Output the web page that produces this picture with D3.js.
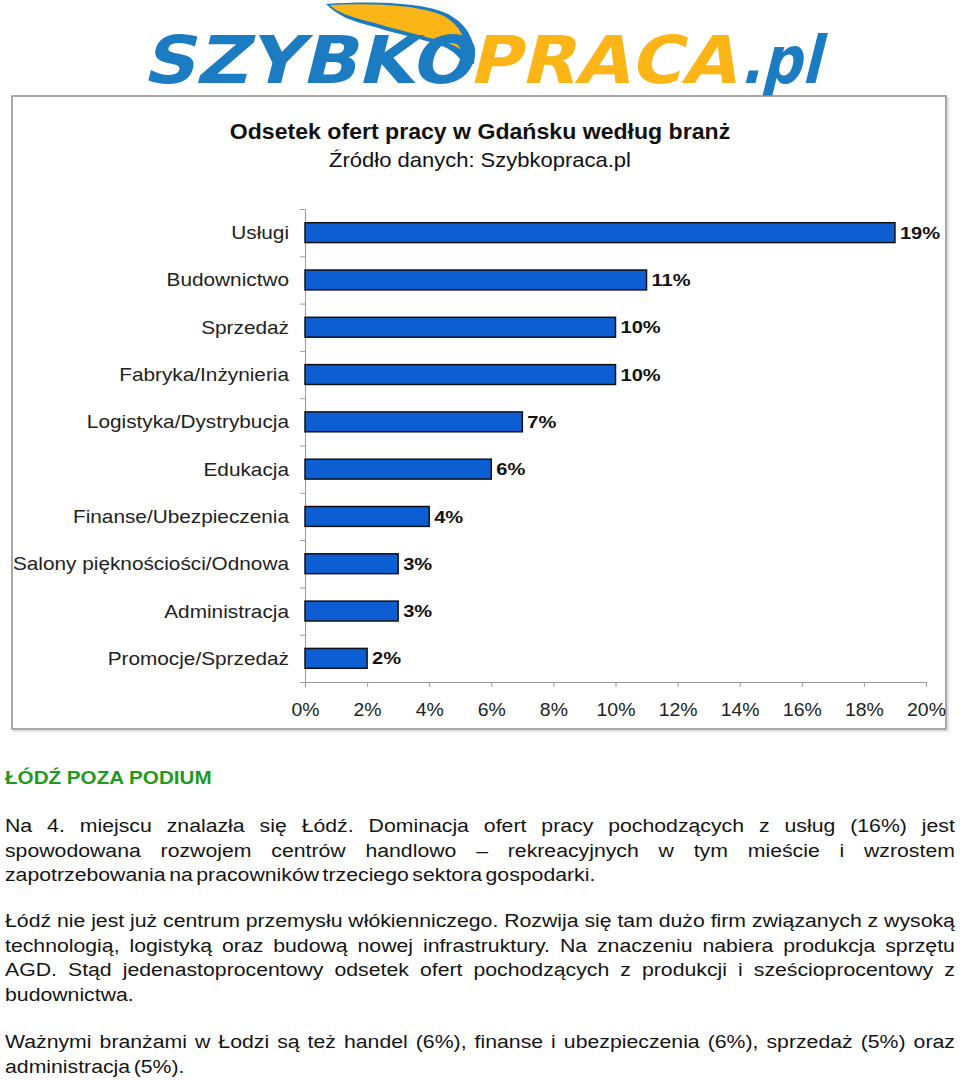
<!DOCTYPE html>
<html lang="pl">
<head>
<meta charset="utf-8" />
<title>Odsetek ofert pracy w Gdańsku według branż</title>
<script src="https://d3js.org/d3.v7.min.js"></script>
<style>
  body { margin: 0; background: #fff; width: 960px; height: 1081px; position: relative; overflow: hidden;
         font-family: "Liberation Sans", Arial, sans-serif; }
  svg { position: absolute; left: 0; top: 0; }
  .axis path, .axis line { stroke: #9a9a9a; stroke-width: 1px; }
  .para { position: absolute; left: 5px; width: 805px; font-size: 18px; line-height: 24.5px; color: #141414;
          word-spacing: -2px; transform: scaleX(1.18); transform-origin: 0 0; }
  .para div { text-align: justify; text-align-last: justify; white-space: nowrap; }
  .para div.last { text-align-last: left; }
</style>
</head>
<body>
<script>
// chart data
const categories = ["Usługi", "Budownictwo", "Sprzedaż", "Fabryka/Inżynieria", "Logistyka/Dystrybucja",
  "Edukacja", "Finanse/Ubezpieczenia", "Salony pięknościości/Odnowa", "Administracja", "Promocje/Sprzedaż"];
const values = [19, 11, 10, 10, 7, 6, 4, 3, 3, 2];
const xTicks = [0, 2, 4, 6, 8, 10, 12, 14, 16, 18, 20];

const title = "Odsetek ofert pracy w Gdańsku według branż";
const subtitle = "Źródło danych: Szybkopraca.pl";
const heading = "ŁÓDŹ POZA PODIUM";
const paragraphs = [
  ["Na 4. miejscu znalazła się Łódź. Dominacja ofert pracy pochodzących z usług (16%) jest",
   "spowodowana rozwojem centrów handlowo – rekreacyjnych w tym mieście i wzrostem",
   "zapotrzebowania na pracowników trzeciego sektora gospodarki."],
  ["Łódź nie jest już centrum przemysłu włókienniczego. Rozwija się tam dużo firm związanych z wysoką",
   "technologią, logistyką oraz budową nowej infrastruktury. Na znaczeniu nabiera produkcja sprzętu",
   "AGD. Stąd jedenastoprocentowy odsetek ofert pochodzących z produkcji i sześcioprocentowy z",
   "budownictwa."],
  ["Ważnymi branżami w Łodzi są też handel (6%), finanse i ubezpieczenia (6%), sprzedaż (5%) oraz",
   "administracja (5%)."]
];
const paraTops = [814, 909, 1030];

const W = 960, H = 1081;
const blue = "#1b7cc2", orange = "#fbb516";

const svg = d3.select("body").append("svg").attr("width", W).attr("height", H);

// ---- logo ----
const logo = svg.append("g").attr("class", "logo");
logo.append("path")
  .attr("d", "M326,4 C370,1 422,2 448,14 C468,25 477,42 474,64 L462,62 C456,52 446,46 430,42 " +
             "C420,39 410,37 400,34 C392,32 384,30 375,27 C366,25 356,22 346,18 C338,14 331,9 326,4 Z")
  .attr("fill", blue);
logo.append("path")
  .attr("d", "M330,5 C372,3 420,5 444,16 C460,25 467,40 466,54 C458,46 446,41 430,38 " +
             "C420,35 410,33 400,30 C392,28 384,26 375,23 C366,21 356,18 347,15 C339,12 334,9 330,5 Z")
  .attr("fill", orange);

function logoWord(txt, x, len, col) {
  logo.append("text")
    .attr("transform", `translate(${x},83) skewX(-14)`)
    .attr("font-size", 66).attr("font-weight", "bold")
    .attr("font-family", "'DejaVu Sans', sans-serif")
    .attr("textLength", len).attr("lengthAdjust", "spacingAndGlyphs")
    .attr("fill", col).text(txt);
}
logoWord("SZYBKO", 142, 330, blue);
logoWord("PRACA", 468, 268, orange);
logoWord(".pl", 740, 80, blue);

// ---- chart frame ----
svg.append("rect").attr("x", 14).attr("y", 98).attr("width", 934).attr("height", 633)
  .attr("fill", "none").attr("stroke", "#e2e2e2").attr("stroke-width", 2);
svg.append("rect").attr("x", 12).attr("y", 96).attr("width", 934).attr("height", 633)
  .attr("fill", "#fff").attr("stroke", "#8c8c8c").attr("stroke-width", 1.5);

function stretched(sel, x, y, sx) {
  return sel.attr("transform", `translate(${x},${y}) scale(${sx},1)`);
}

stretched(svg.append("text"), 480, 139, 1.05)
  .attr("text-anchor", "middle").attr("font-size", 22).attr("font-weight", "bold")
  .attr("fill", "#111").text(title);
stretched(svg.append("text"), 480, 167, 1.1)
  .attr("text-anchor", "middle").attr("font-size", 20).attr("fill", "#111").text(subtitle);

// ---- scales ----
const x = d3.scaleLinear().domain([0, 20]).range([305, 926]);
const y = d3.scaleBand().domain(categories).range([209, 682]).paddingInner(0.58).paddingOuter(0.29);
const yIdx = d3.scaleLinear().domain([0, categories.length]).range([209, 682]);

// y axis with ticks at category boundaries
svg.append("g").attr("class", "axis")
  .attr("transform", "translate(305,0)")
  .call(d3.axisLeft(yIdx).ticks(categories.length).tickSize(5).tickSizeOuter(0).tickFormat(""));

// x axis
const xa = svg.append("g").attr("class", "axis")
  .attr("transform", "translate(0,682)")
  .call(d3.axisBottom(x).tickValues(xTicks).tickSize(5).tickSizeOuter(0).tickFormat(d => d + "%"));
xa.selectAll("text")
  .attr("y", 0).attr("dy", 0)
  .attr("transform", "translate(0,34) scale(1.08,1)")
  .attr("font-size", 18).attr("font-family", "'Liberation Sans', Arial, sans-serif")
  .attr("fill", "#222");

// bars
svg.append("g").selectAll("rect")
  .data(values)
  .join("rect")
  .attr("x", x(0))
  .attr("y", (d, i) => y(categories[i]))
  .attr("width", d => x(d) - x(0))
  .attr("height", y.bandwidth())
  .attr("fill", "#0c5ed2")
  .attr("stroke", "#111")
  .attr("stroke-width", 1.5);

// category labels
svg.append("g").selectAll("text")
  .data(categories)
  .join("text")
  .attr("transform", d => `translate(289,${y(d) + y.bandwidth() / 2}) scale(1.155,1)`)
  .attr("dy", "0.36em")
  .attr("text-anchor", "end")
  .attr("font-size", 18)
  .attr("fill", "#222")
  .text(d => d);

// value labels
svg.append("g").selectAll("text")
  .data(values)
  .join("text")
  .attr("transform", (d, i) => `translate(${x(d) + 5},${y(categories[i]) + y.bandwidth() / 2}) scale(1.18,1)`)
  .attr("dy", "0.36em")
  .attr("font-size", 17)
  .attr("font-weight", "bold")
  .attr("fill", "#111")
  .text(d => d + "%");

// ---- text below the chart ----
stretched(svg.append("text"), 5, 784, 1.11)
  .attr("font-size", 18.6).attr("font-weight", "bold").attr("fill", "#1e9a1e").text(heading);

paragraphs.forEach((lines, p) => {
  const box = d3.select("body").append("div").attr("class", "para").style("top", paraTops[p] + "px");
  box.selectAll("div")
    .data(lines)
    .join("div")
    .classed("last", (d, i) => i === lines.length - 1)
    .text(d => d);
});
</script>
</body>
</html>
